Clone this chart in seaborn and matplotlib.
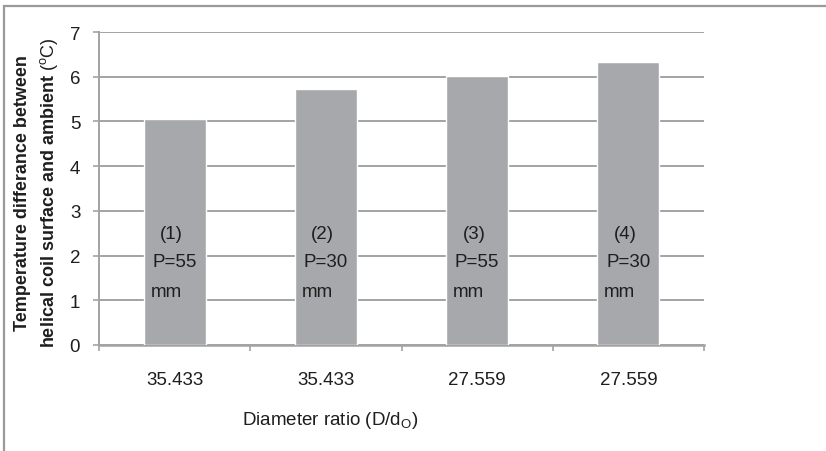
import matplotlib
matplotlib.use("Agg")
import matplotlib.pyplot as plt
import matplotlib.patches as mpatches
from matplotlib.ticker import FixedLocator, NullFormatter
import seaborn as sns

# ---- data ----
cases = ["(1)", "(2)", "(3)", "(4)"]
pitch = ["P=55", "P=30", "P=55", "P=30"]
diameter_ratio = ["35.433", "35.433", "27.559", "27.559"]
temp_diff = [5.05, 5.72, 6.02, 6.32]
y_ticks = [0, 1, 2, 3, 4, 5, 6, 7]

sns.set_theme(style="white")
plt.rcParams["font.family"] = ["Liberation Sans", "DejaVu Sans"]
plt.rcParams["mathtext.fontset"] = "custom"
plt.rcParams["mathtext.rm"] = "Liberation Sans"
plt.rcParams["mathtext.it"] = "Liberation Sans:italic"
plt.rcParams["mathtext.bf"] = "Liberation Sans:bold"

W, H = 826, 452
fig = plt.figure(figsize=(W / 100, H / 100), dpi=100)
ax = fig.add_axes([99 / W, (H - 346) / H, (704 - 99) / W, (346 - 33) / H])

bar_color = "#A7A8AB"
grid_color = "#A3A3A3"
text_color = "#1E1E1E"

sns.barplot(x=cases, y=temp_diff, color=bar_color, saturation=1, width=0.41,
            ax=ax, zorder=3)

ax.set_ylim(0, 7)
ax.set_xlim(-0.5, 3.5)
ax.set_yticks(y_ticks)
ax.set_yticklabels([str(t) for t in y_ticks])
ax.yaxis.grid(True, color=grid_color, lw=1.4)
ax.xaxis.grid(False)
ax.set_axisbelow(True)

# x labels
ax.set_xticks(range(len(cases)))
ax.set_xticklabels(diameter_ratio)
ax.xaxis.set_minor_locator(FixedLocator([i - 0.5 for i in range(len(cases) + 1)]))
ax.xaxis.set_minor_formatter(NullFormatter())
ax.tick_params(axis="x", which="major", length=0, pad=19, labelsize=13.5,
               labelcolor=text_color)
ax.tick_params(axis="x", which="minor", length=4.5, width=1.2, color=grid_color,
               direction="out", bottom=True)
ax.tick_params(axis="y", which="major", length=4.5, width=1.2, color=grid_color,
               direction="out", left=True, pad=9, labelsize=13.5,
               labelcolor=text_color)

for s in ["top", "right"]:
    ax.spines[s].set_visible(False)
ax.spines["left"].set_color(grid_color)
ax.spines["left"].set_linewidth(1.4)
ax.spines["bottom"].set_color(grid_color)
ax.spines["bottom"].set_linewidth(1.8)

# axis labels
ax.set_xlabel(r"Diameter ratio (D/d$_{\mathrm{O}}$)", fontsize=13.5,
              color=text_color, va="center")
ax.xaxis.set_label_coords((330 - 99) / 605, (346 - 421) / 313)
ax.set_ylabel("Temperature differance between\n"
              r"helical coil surface and ambient $(^{\mathrm{o}}\mathrm{C})$",
              fontsize=13, fontweight="bold", color=text_color,
              va="center", linespacing=1.45)
ax.yaxis.set_label_coords((37 - 99) / 605, 0.49)

# labels inside bars
for i, (c, p) in enumerate(zip(cases, pitch)):
    ax.text(i - 0.02, 2.5, c, ha="center", va="center", fontsize=13.5,
            color=text_color, zorder=4)
    ax.text(i, 1.86, p, ha="center", va="center", fontsize=13.5,
            color=text_color, zorder=4)
    ax.text(i - 0.16, 1.2, "mm", ha="left", va="center", fontsize=13.5,
            color=text_color, zorder=4)

# outer chart frame (cut off at right and bottom)
fig.patches.append(mpatches.Rectangle((4 / W, -0.1), 1.2, (H - 7) / H + 0.1,
                                      transform=fig.transFigure, fill=False,
                                      edgecolor="#9A9A9A", lw=1.6))

fig.savefig("out.png", dpi=100)
